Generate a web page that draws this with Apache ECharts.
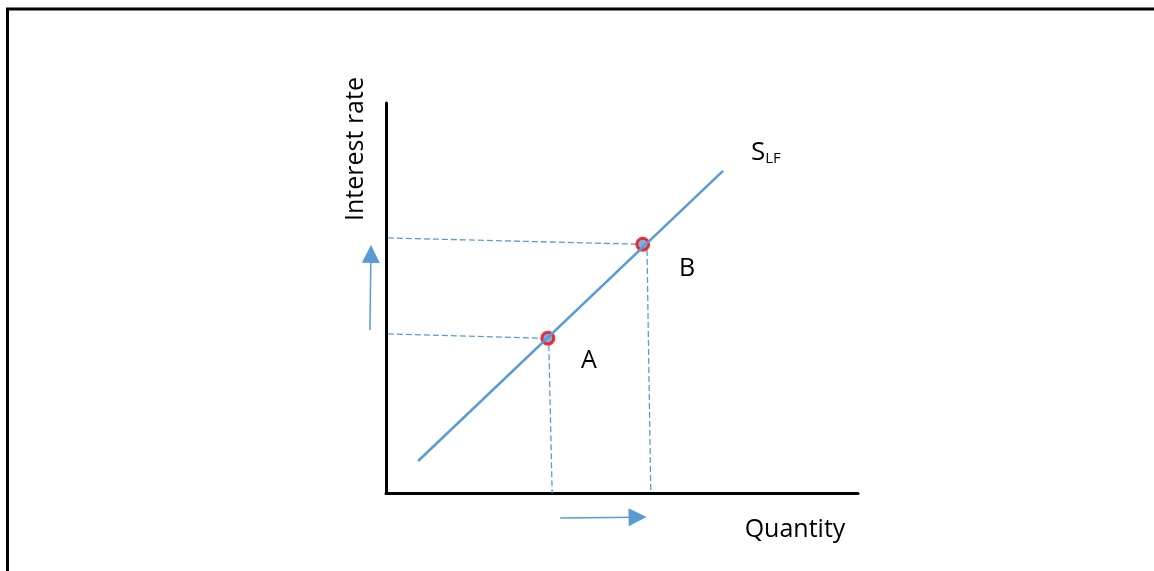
<!DOCTYPE html>
<html>
<head>
<meta charset="utf-8">
<script src="https://cdn.jsdelivr.net/npm/echarts@6/dist/echarts.min.js"></script>
<style>
  html, body { margin: 0; padding: 0; background: #fff; }
  #chart { width: 1154px; height: 571px; }
</style>
</head>
<body>
<div id="chart"></div>
<script>
// all values in chart units: quantity 0..100, interest rate 0..100
const supplyLine = [[6.8, 8.2], [71.4, 82.6]];
const equilibriumPoints = [[34.3, 39.7], [54.4, 63.8]];
const guideLines = [
  [[0.4, 40.8], [33.1, 39.7]],   // A to rate axis
  [[34.5, 37.9], [35.2, 0]],     // A to quantity axis
  [[0.4, 65.4], [53.2, 63.8]],   // B to rate axis
  [[55.3, 62.3], [56.1, 0]]      // B to quantity axis
];
const rateArrow = [[-3.4, 41.8], [-3.2, 61.3]];
const quantityArrow = [[36.9, -6.4], [53.3, -6.2]];

const BLUE = '#5B9BD5';
const FONT = '"Open Sans", sans-serif';

const chart = echarts.init(document.getElementById('chart'));

chart.setOption({
  animation: false,
  grid: { left: 386, top: 103, width: 472, height: 390 },
  xAxis: {
    type: 'value', min: 0, max: 100,
    axisLine: { show: true, lineStyle: { color: '#000', width: 3 } },
    axisTick: { show: false }, axisLabel: { show: false }, splitLine: { show: false }
  },
  yAxis: {
    type: 'value', min: 0, max: 100,
    axisLine: { show: true, lineStyle: { color: '#000', width: 3 } },
    axisTick: { show: false }, axisLabel: { show: false }, splitLine: { show: false }
  },
  graphic: [
    {
      type: 'polyline', silent: true,
      shape: { points: [[7.5, 571], [7.5, 9], [1154, 9]] },
      style: { stroke: '#000', lineWidth: 3, fill: null }
    },
    {
      type: 'text', x: 356, y: 149, rotation: Math.PI / 2,
      style: { text: 'Interest rate', font: '25px ' + FONT, fill: '#000', align: 'center', verticalAlign: 'middle' }
    },
    {
      type: 'text', x: 795, y: 530,
      style: { text: 'Quantity', font: '25px ' + FONT, fill: '#000', align: 'center', verticalAlign: 'middle' }
    },
    {
      type: 'text', x: 589, y: 361,
      style: { text: 'A', font: '25px ' + FONT, fill: '#000', align: 'center', verticalAlign: 'middle' }
    },
    {
      type: 'text', x: 687, y: 269,
      style: { text: 'B', font: '25px ' + FONT, fill: '#000', align: 'center', verticalAlign: 'middle' }
    },
    {
      type: 'text', x: 751, y: 140,
      style: {
        text: '{s|S}{sub|LF}', fill: '#000',
        rich: {
          s: { font: '26px ' + FONT, fill: '#000', verticalAlign: 'bottom' },
          sub: { font: '15px ' + FONT, fill: '#000', verticalAlign: 'bottom' }
        }
      }
    }
  ],
  series: [
    {
      type: 'lines', coordinateSystem: 'cartesian2d', silent: true,
      lineStyle: { color: BLUE, width: 1.3, type: [6, 3], opacity: 1 },
      data: guideLines.map(c => ({ coords: c }))
    },
    {
      type: 'line', data: supplyLine, symbol: 'none', silent: true,
      lineStyle: { color: BLUE, width: 2.5 }
    },
    {
      type: 'scatter', data: equilibriumPoints, symbolSize: 12, silent: true,
      itemStyle: { color: BLUE, borderColor: '#FF0000', borderWidth: 3 }
    },
    {
      type: 'lines', coordinateSystem: 'cartesian2d', silent: true, clip: false,
      symbol: ['none', 'triangle'], symbolSize: 18,
      lineStyle: { color: BLUE, width: 1.5, opacity: 1 },
      data: [{ coords: rateArrow }, { coords: quantityArrow }]
    }
  ]
});
</script>
</body>
</html>
